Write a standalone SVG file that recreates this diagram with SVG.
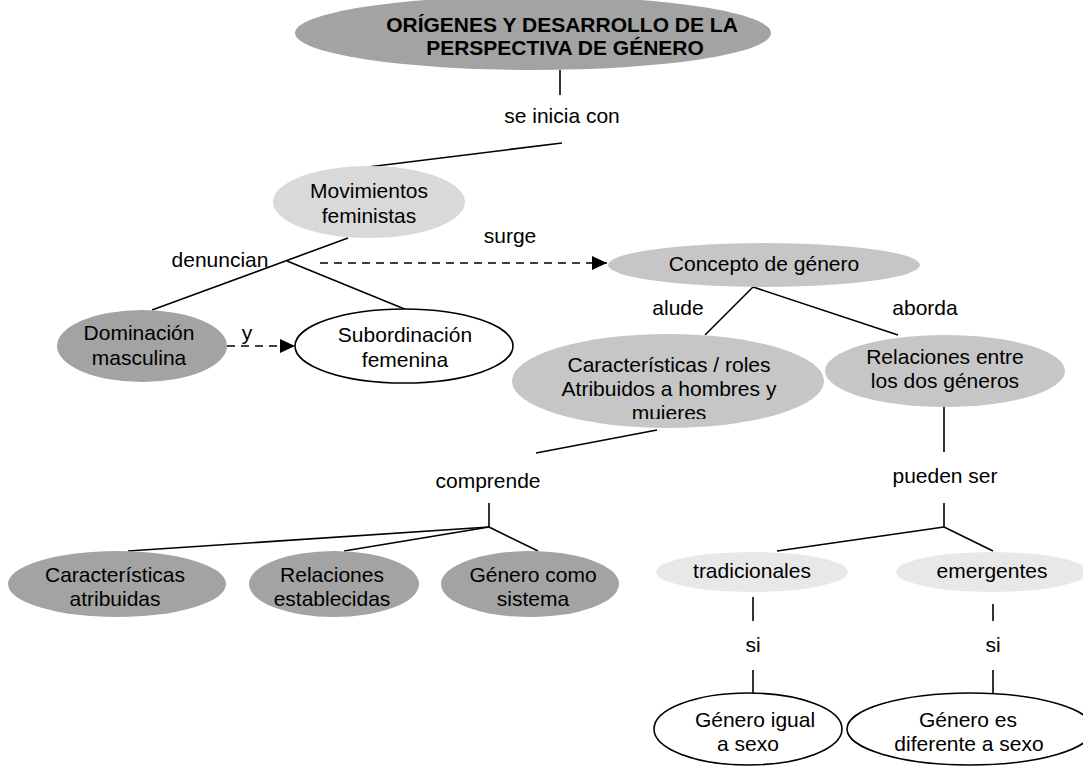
<svg xmlns="http://www.w3.org/2000/svg" width="1083" height="766" viewBox="0 0 1083 766">
<defs>
<style>
text{font-family:"Liberation Sans",Arial,sans-serif;font-size:21px;fill:#000;text-anchor:middle}
.title{font-weight:bold}
.dark{fill:#a3a3a3}
.mid{fill:#c6c6c6}
.light{fill:#d9d9d9}
.pale{fill:#e8e8e8}
.white{fill:#fff;stroke:#000;stroke-width:1.6}
.ln{stroke:#000;stroke-width:1.6;fill:none}
.dash{stroke:#000;stroke-width:1.6;fill:none;stroke-dasharray:8 6}
</style>
<marker id="arr" markerUnits="userSpaceOnUse" markerWidth="15" markerHeight="14" refX="15" refY="7" orient="auto">
<path d="M0,0 L15,7 L0,14 z" fill="#000"/>
</marker>
<clipPath id="clipCar"><rect x="500" y="330" width="340" height="89"/></clipPath>
</defs>
<rect width="1083" height="766" fill="#fff"/>
<g id="connectors">
<line class="ln" x1="560" y1="70" x2="560" y2="95"/>
<line class="ln" x1="562" y1="143" x2="368" y2="167"/>
<line class="ln" x1="348" y1="238" x2="152" y2="310"/>
<line class="ln" x1="287" y1="261" x2="407" y2="310"/>
<line class="dash" x1="320" y1="263" x2="607" y2="263" marker-end="url(#arr)"/>
<line class="dash" x1="227" y1="346" x2="295" y2="346" marker-end="url(#arr)"/>
<line class="ln" x1="753" y1="287" x2="705" y2="335"/>
<line class="ln" x1="753" y1="287" x2="898" y2="335"/>
<line class="ln" x1="657" y1="430" x2="536" y2="453"/>
<line class="ln" x1="489" y1="503" x2="489" y2="527"/>
<line class="ln" x1="489" y1="527" x2="128" y2="551"/>
<line class="ln" x1="489" y1="527" x2="344" y2="551"/>
<line class="ln" x1="489" y1="527" x2="538" y2="551"/>
<line class="ln" x1="944" y1="407" x2="944" y2="452"/>
<line class="ln" x1="944" y1="503" x2="944" y2="527"/>
<line class="ln" x1="944" y1="527" x2="777" y2="551"/>
<line class="ln" x1="944" y1="527" x2="993" y2="551"/>
<line class="ln" x1="753" y1="597" x2="753" y2="621"/>
<line class="ln" x1="753" y1="670" x2="753" y2="693"/>
<line class="ln" x1="993" y1="604" x2="993" y2="621"/>
<line class="ln" x1="993" y1="670" x2="993" y2="693"/>
<text x="562" y="123">se inicia con</text>
<text x="220" y="267">denuncian</text>
<text x="510" y="243">surge</text>
<text x="247" y="340">y</text>
<text x="678" y="315">alude</text>
<text x="925" y="315">aborda</text>
<text x="488" y="488">comprende</text>
<text x="945" y="483">pueden ser</text>
<text x="753" y="652">si</text>
<text x="993" y="652">si</text>
</g>
<g id="n-title">
<ellipse class="dark" cx="533" cy="33" rx="238" ry="37"/>
<text class="title" x="562" y="32">ORÍGENES Y DESARROLLO DE LA</text>
<text class="title" x="565" y="55">PERSPECTIVA DE GÉNERO</text>
</g>
<g id="n-movimientos">
<ellipse class="light" cx="369" cy="202" rx="96" ry="36"/>
<text x="369" y="198">Movimientos</text>
<text x="369" y="223">feministas</text>
</g>
<g id="n-dominacion">
<ellipse class="dark" cx="142" cy="346" rx="85" ry="36"/>
<text x="139" y="340">Dominación</text>
<text x="139" y="365">masculina</text>
</g>
<g id="n-subordinacion">
<ellipse class="white" cx="404" cy="346" rx="109" ry="37"/>
<text x="405" y="342">Subordinación</text>
<text x="405" y="367">femenina</text>
</g>
<g id="n-concepto">
<ellipse class="mid" cx="764" cy="265" rx="156" ry="22"/>
<text x="764" y="271">Concepto de género</text>
</g>
<g id="n-caracteristicas">
<ellipse class="mid" cx="668" cy="381" rx="156" ry="47"/>
<text x="669" y="372">Características / roles</text>
<text x="669" y="396">Atribuidos a hombres y</text>
<text x="669" y="420" clip-path="url(#clipCar)">muieres</text>
</g>
<g id="n-relaciones">
<ellipse class="mid" cx="945" cy="371" rx="120" ry="36"/>
<text x="945" y="364">Relaciones entre</text>
<text x="945" y="388">los dos géneros</text>
</g>
<g id="n-car-atribuidas">
<ellipse class="dark" cx="117" cy="584" rx="109" ry="33"/>
<text x="115" y="582">Características</text>
<text x="115" y="606">atribuidas</text>
</g>
<g id="n-rel-establecidas">
<ellipse class="dark" cx="334" cy="584" rx="85" ry="33"/>
<text x="332" y="582">Relaciones</text>
<text x="332" y="606">establecidas</text>
</g>
<g id="n-genero-sistema">
<ellipse class="dark" cx="530" cy="584" rx="89" ry="33"/>
<text x="533" y="582">Género como</text>
<text x="533" y="606">sistema</text>
</g>
<g id="n-tradicionales">
<ellipse class="pale" cx="752" cy="572" rx="96" ry="20"/>
<text x="752" y="578">tradicionales</text>
</g>
<g id="n-emergentes">
<ellipse class="pale" cx="992" cy="572" rx="96" ry="20"/>
<text x="992" y="578">emergentes</text>
</g>
<g id="n-igual">
<ellipse class="white" cx="748" cy="729" rx="94" ry="36"/>
<text x="755" y="727">Género igual</text>
<text x="748" y="751">a sexo</text>
</g>
<g id="n-diferente">
<ellipse class="white" cx="970" cy="729" rx="123" ry="36"/>
<text x="968" y="727">Género es</text>
<text x="969" y="751">diferente a sexo</text>
</g>
</svg>
